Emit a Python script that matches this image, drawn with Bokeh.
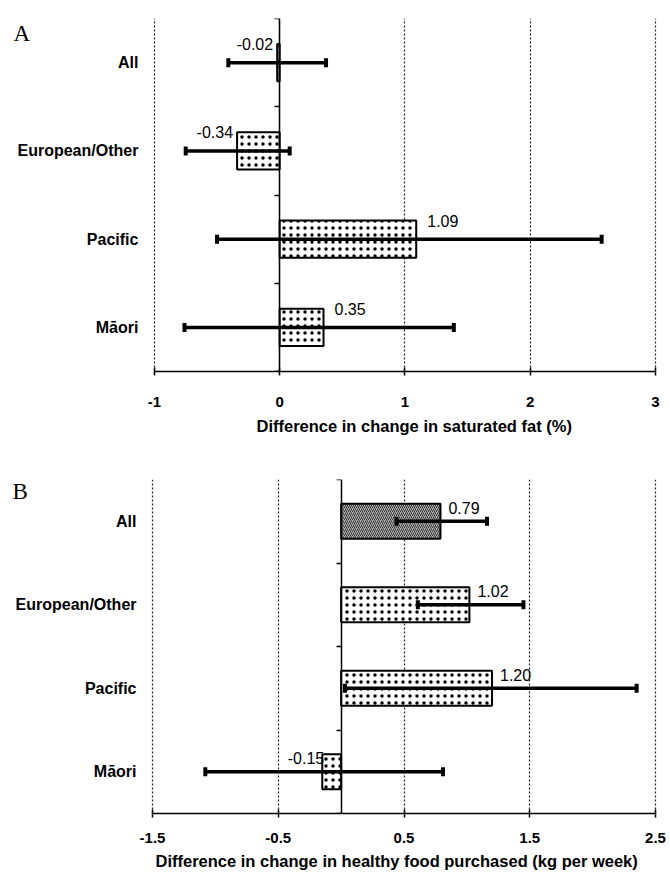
from bokeh.plotting import figure
from bokeh.models import (Range1d, FixedTicker, LinearAxis, ColumnDataSource,
                          CustomJSTickFormatter, Title)
from bokeh.layouts import column
from bokeh.embed import file_html
from bokeh.resources import INLINE
from bokeh.core.properties import value

# ---------------- data ----------------
categories = ["All", "European/Other", "Pacific", "Māori"]

fat_diff = [-0.02, -0.34, 1.09, 0.35]
fat_lo = [-0.41, -0.75, -0.50, -0.76]
fat_hi = [0.37, 0.08, 2.57, 1.39]
fat_ticks = [-1, 0, 1, 2, 3]
fat_title = "Difference in change in saturated fat (%)"

food_diff = [0.79, 1.02, 1.20, -0.15]
food_lo = [0.44, 0.61, 0.03, -1.08]
food_hi = [1.16, 1.45, 2.35, 0.81]
food_ticks = [-1.5, -0.5, 0.5, 1.5, 2.5]
food_title = "Difference in change in healthy food purchased (kg per week)"

FONT = "Liberation Sans"

# advance widths (per 1000 em) of Liberation Sans Bold, used to centre titles
BOLD_W = {" ": 278, "D": 722, "i": 278, "f": 333, "e": 556, "r": 389, "n": 611,
          "c": 556, "h": 611, "a": 556, "g": 611, "s": 556, "t": 333, "u": 611,
          "d": 611, "(": 333, "%": 889, ")": 333, "y": 556, "l": 278, "o": 611,
          "p": 611, "k": 556, "w": 778}


def text_width(s, size):
    return sum(BOLD_W.get(ch, 556) for ch in s) / 1000 * size


def make_panel(letter, diff, lo, hi, ticks, title, fills, hatches, scales,
               width, height, br, bt, bb, plot_left, cat_gap, tick_standoff,
               title_standoff, title_center, label_dy, pos_dx, neg_dx,
               letter_dx, letter_dy):
    n = len(categories)
    ypos = [n - 0.5 - i for i in range(n)]
    bounds = list(range(n + 1))

    # the frame spans the whole canvas width; the value axis occupies
    # [plot_left, frame_w - 2] pixels of it, the rest holds the row labels
    frame_w = width - br
    plot_right = frame_w - 2
    upp = (ticks[-1] - ticks[0]) / (plot_right - plot_left)
    x_start = ticks[0] - plot_left * upp
    x_end = ticks[-1] + (frame_w - plot_right) * upp

    p = figure(width=width, height=height,
               x_range=Range1d(x_start, x_end), y_range=Range1d(0, n),
               output_backend="svg", toolbar_location=None,
               y_axis_location=None,
               min_border_left=0, min_border_right=br,
               min_border_top=bt, min_border_bottom=bb)
    p.outline_line_color = None
    p.background_fill_color = "white"
    p.border_fill_color = "white"

    # x axis
    xa = p.xaxis[0]
    xa.ticker = FixedTicker(ticks=ticks)
    xa.bounds = (ticks[0], ticks[-1])
    xa.major_label_overrides = {t: f"{t:g}" for t in ticks}
    xa.axis_line_color = "black"
    xa.axis_line_width = 1.5
    xa.major_tick_line_color = "black"
    xa.major_tick_line_width = 1.5
    xa.major_tick_in = 4
    xa.major_tick_out = 4
    xa.minor_tick_line_color = None
    xa.major_label_text_font = FONT
    xa.major_label_text_font_style = "bold"
    xa.major_label_text_font_size = "15px"
    xa.major_label_text_color = "black"
    xa.major_label_standoff = tick_standoff

    # axis title, centred under the value axis (not under the whole frame)
    tsize = 16.5
    shift = round(title_center - text_width(title, tsize) / 2)
    p.add_layout(Title(text=title, align="left", offset=shift,
                       standoff=title_standoff, text_font=FONT,
                       text_font_style="bold", text_font_size=f"{tsize}px",
                       text_color="black"), "below")

    p.xgrid.ticker = FixedTicker(ticks=ticks)
    p.xgrid.grid_line_color = "#222222"
    p.xgrid.grid_line_dash = "2 2"
    p.xgrid.grid_line_width = 1.2
    p.ygrid.visible = False

    # zero line with category boundary ticks
    za = LinearAxis(fixed_location=0, ticker=FixedTicker(ticks=bounds),
                    formatter=CustomJSTickFormatter(code="return ''"),
                    axis_line_color="black", axis_line_width=1.5,
                    major_tick_line_color="black", major_tick_line_width=1.5,
                    major_tick_out=5, major_tick_in=0,
                    minor_tick_line_color=None, major_label_standoff=0)
    p.add_layout(za, "left")

    # row labels
    cat_src = ColumnDataSource(dict(x=[ticks[0]] * n, y=ypos, text=categories))
    p.text(x="x", y="y", text="text", source=cat_src, x_offset=-cat_gap,
           text_align="right", text_baseline="middle", text_font=value(FONT),
           text_font_style="bold", text_font_size="16px", text_color="black")

    # panel letter
    p.text(x=[x_start], y=[n], text=[letter], x_offset=letter_dx,
           y_offset=letter_dy, text_align="left", text_baseline="top",
           text_font=value("Liberation Serif"), text_font_size="23px",
           text_color="black")

    labels = [f"{v:.2f}" for v in diff]
    src = ColumnDataSource(dict(
        y=ypos, right=diff, lo=lo, hi=hi, label=labels,
        top=[y + 0.21 for y in ypos],
        align=["left" if v >= 0 else "right" for v in diff],
        dx=[pos_dx if v >= 0 else neg_dx for v in diff],
        fill=fills, hatch=hatches, hscale=scales,
    ))

    p.hbar(y="y", left=0, right="right", height=0.42, source=src,
           fill_color="fill", line_color="black", line_width=2,
           hatch_pattern="hatch", hatch_color="black", hatch_scale="hscale",
           hatch_weight=0.7)

    p.segment(x0="lo", y0="y", x1="hi", y1="y", source=src,
              line_color="black", line_width=3.5)
    for col in ("lo", "hi"):
        p.rect(x=col, y="y", width=4, height=9, width_units="screen",
               height_units="screen", source=src, fill_color="black",
               line_color=None)

    p.text(x="right", y="top", text="label", source=src,
           text_align="align", x_offset="dx", y_offset=label_dy,
           text_baseline="alphabetic", text_font=value(FONT),
           text_font_size="16px", text_color="black")
    return p


pA = make_panel("A", fat_diff, fat_lo, fat_hi, fat_ticks, fat_title,
                ["white"] * 4, ["dot"] * 4, [7] * 4,
                width=670, height=440, br=4, bt=18, bb=67,
                plot_left=156, cat_gap=16, tick_standoff=21, title_standoff=11,
                title_center=414, label_dy=0, pos_dx=11, neg_dx=-4,
                letter_dx=13, letter_dy=2)

pB = make_panel("B", food_diff, food_lo, food_hi, food_ticks, food_title,
                ["#b0b0b0", "white", "white", "white"],
                ["right_diagonal_line", "dot", "dot", "dot"], [4, 7, 7, 7],
                width=670, height=435, br=13, bt=39, bb=62,
                plot_left=152, cat_gap=16, tick_standoff=15, title_standoff=9,
                title_center=396, label_dy=4, pos_dx=8, neg_dx=2,
                letter_dx=12, letter_dy=-1)

layout = column(pA, pB, spacing=0)
open("out.html", "w").write(file_html(layout, INLINE))
